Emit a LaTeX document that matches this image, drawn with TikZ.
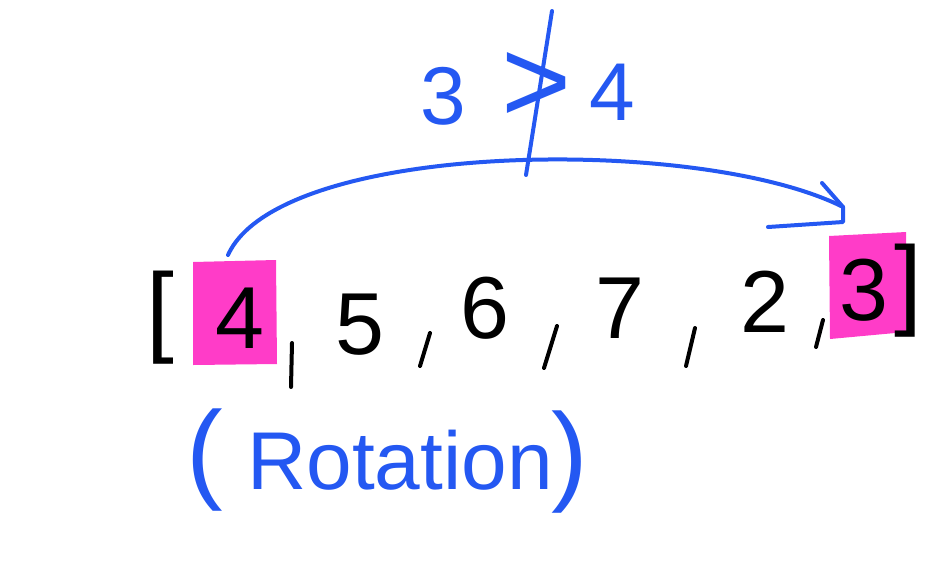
\documentclass[tikz,border=0pt]{standalone}
\usepackage{fontspec}
\setmainfont{Liberation Sans}
\definecolor{penblue}{HTML}{2458F2}
\definecolor{hilite}{HTML}{FF3CC8}
\begin{document}
\begin{tikzpicture}[x=1pt,y=-1pt,
  numtxt/.style={font=\fontsize{88}{88}\selectfont, text=black, inner sep=0pt},
  bluetxt/.style={font=\fontsize{82}{82}\selectfont, text=penblue, inner sep=0pt},
  commastroke/.style={draw=black, line width=4pt, line cap=round},
  bluestroke/.style={draw=penblue, line width=4pt, line cap=round, line join=round}]
\useasboundingbox (0,0) rectangle (952,584);
% highlight boxes
\fill[hilite] (193,262) -- (276,260) -- (277,364) -- (193,365) -- cycle;
\fill[hilite] (829,236) -- (906,232) -- (906,332) -- (830,339) -- cycle;
% brackets
\node[numtxt, font=\fontsize{100}{100}\selectfont] (lb) at (160,318) {[};
\node[numtxt, font=\fontsize{100}{100}\selectfont] (rb) at (908,291) {]};
% numbers
\node[numtxt] (n4) at (240,318) {4};
\node[numtxt] (n5) at (360,325) {5};
\node[numtxt] (n6) at (485,308) {6};
\node[numtxt] (n7) at (620,308) {7};
\node[numtxt] (n2) at (765,302) {2};
\node[numtxt] (n3) at (864,290) {3};
% commas
\coordinate (c1a) at (292,343); \coordinate (c1b) at (291,387);
\draw[commastroke] (c1a) -- (c1b);
\coordinate (c2a) at (430,333); \coordinate (c2b) at (420,366);
\draw[commastroke] (c2a) -- (c2b);
\coordinate (c3a) at (557,326); \coordinate (c3b) at (544,368);
\draw[commastroke] (c3a) -- (c3b);
\coordinate (c4a) at (695,328); \coordinate (c4b) at (686,366);
\draw[commastroke] (c4a) -- (c4b);
\coordinate (c5a) at (823,320); \coordinate (c5b) at (816,347);
\draw[commastroke] (c5a) -- (c5b);
% arc arrow
\coordinate (as) at (228,255);
\coordinate (ae) at (843,207);
\draw[bluestroke] (as) .. controls (280,140) and (700,135) .. (ae);
\coordinate (ah1) at (822,183);
\coordinate (ah2) at (768,227);
\draw[bluestroke] (ah1) -- (ae) -- (843,222) -- (ah2);
% 3 not greater than 4
\node[bluetxt] (b3) at (443,96) {3};
\node[bluetxt, font=\fontsize{120}{120}\selectfont] (gt) at (537,88) {>};
\node[bluetxt] (b4) at (612,92) {4};
\coordinate (sl1) at (552,11);
\coordinate (sl2) at (526,175);
\draw[bluestroke] (sl1) -- (sl2);
% (Rotation)
\node[bluetxt, font=\fontsize{110}{110}\selectfont] (lp) at (205,460) {(};
\node[bluetxt] (rot) at (400,460) {Rotation};
\node[bluetxt, font=\fontsize{110}{110}\selectfont] (rp) at (570,462) {)};
\end{tikzpicture}
\end{document}
